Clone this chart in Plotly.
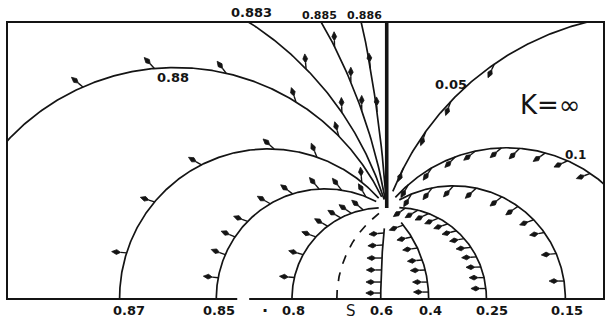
import numpy as np
import plotly.graph_objects as go

# ---------------- data ----------------
# singular point where all isoclines meet
FOCUS_X, FOCUS_Y = 388.0, 90.0
X_RANGE = [8, 605]
Y_RANGE = [0, 275]

# every isocline is a circle centred on the bottom axis passing through the focus
curve_labels = ["0.88", "0.883", "0.885", "0.886", "0.87", "0.85", "0.8", "S",
                "0.6", "0.4", "0.25", "0.15", "0.1", "0.05"]
curve_center = [175.8, 73.1, -163.9, -975.0, 269.1, 326.2, 383.1, 444.0,
                1060.0, 312.6, 397.5, 455.0, 508.3, 657.9]
curve_theta_near = [26, 17.5, 10.2, 4.2, 42, 62, 92, 127, 174.1, 40, 88, 119, 138, 158]
curve_theta_far = [180, 180, 180, 180, 180, 180, 180, 180, 180, 0, 0, 0, 0, 0]
curve_dashed = [False] * 7 + [True] + [False] * 6

# arrows along each isocline: position angle on the circle, arrow direction (deg)
arrow_theta = [
    [113.7, 95.2, 77.2, 58.3, 44.6],
    [44.4, 34.5],
    [26.7, 22.7, 19.6],
    [9.69, 7.83],
    [162.4, 139.9, 116.7, 87.7, 70.9, 51],
    [169.3, 156.6, 145.9, 135.4, 120.3, 107.4, 93.2, 81.3, 68],
    [166.9, 151.2, 137.3, 127.2, 117.2, 109.9, 102],
    [],
    [179.58, 178.65, 177.63, 176.62, 175.52, 174.5],
    [2.9, 7.8, 13.8, 18.9, 25.2, 31.3, 38.4],
    [6, 13, 20, 27, 34, 41, 48, 55, 62, 69, 76, 84],
    [8.7, 23.3, 35.7, 44.2, 54.8, 64.4, 78.3, 90, 101, 112],
    [56, 66, 75, 85, 92, 102, 110, 120, 131],
    [124.7, 136.3, 144.2, 152.7],
]
arrow_angle = [
    [140, 133, 127, 108, 106],
    [95, 92],
    [92, 90, 90],
    [95, 92],
    [175, 162, 150, 138, 112, 95],
    [174, 160, 158, 160, 150, 143, 130, 128, 120],
    [175, 165, 160, 150, 150, 145, 140],
    [],
    [180, 180, 180, 180, 183, 185],
    [180, 180, 182, 185, 188, 192, 200],
    [180, 180, 181, 183, 186, 190, 194, 198, 202, 206, 210, 215],
    [180, 185, 190, 200, 215, 218, 223, 228, 232, 238],
    [200, 205, 215, 225, 221, 218, 225, 235, 240],
    [245, 250, 250, 248],
]

# text labels
label_text = ["0.883", "0.885", "0.886", "0.88", "0.05", "0.1", "K=∞",
              "0.87", "0.85", "·", "0.8", "S", "0.6", "0.4", "0.25", "0.15"]
label_x = [252, 321, 366, 174, 452, 577, 552, 129, 220, 266, 294, 352, 383, 432, 494, 569]
label_y = [285, 283, 283, 221, 214, 143, 193, -12, -12, -12, -12, -13, -12, -12, -12, -12]
label_size = [13, 11, 11, 13, 13, 12, 26, 13, 13, 16, 13, 15, 13, 13, 13, 13]
label_bold = [True, True, True, True, True, True, False,
              True, True, True, True, False, True, True, True, True]

# ---------------- figure ----------------
INK = "#141414"
ARROW_LEN = 15.0
HEAD_LEN = 9.0
HEAD_HALF_W = 2.4

fig = go.Figure()

curve_radius = [float(np.hypot(FOCUS_X - c, FOCUS_Y)) for c in curve_center]

for lab, cx, r, t0, t1, dashed in zip(curve_labels, curve_center, curve_radius,
                                      curve_theta_near, curve_theta_far, curve_dashed):
    t = np.radians(np.linspace(t0, t1, 400))
    fig.add_trace(go.Scatter(
        x=cx + r * np.cos(t), y=r * np.sin(t), mode="lines",
        line=dict(color=INK, width=1.7, dash="dash" if dashed else "solid"),
        hoverinfo="skip", showlegend=False, name=lab))

# thick vertical line from the focus to the top
fig.add_trace(go.Scatter(x=[FOCUS_X, FOCUS_X], y=[FOCUS_Y, Y_RANGE[1]], mode="lines",
                         line=dict(color=INK, width=3.6), hoverinfo="skip", showlegend=False))

# arrows
stem_x, stem_y, head_x, head_y = [], [], [], []
for cx, r, thetas, angs in zip(curve_center, curve_radius, arrow_theta, arrow_angle):
    for th, a in zip(thetas, angs):
        bx = cx + r * np.cos(np.radians(th))
        by = r * np.sin(np.radians(th))
        ux, uy = np.cos(np.radians(a)), np.sin(np.radians(a))
        nx, ny = -uy, ux
        back = (bx + (ARROW_LEN - HEAD_LEN) * ux, by + (ARROW_LEN - HEAD_LEN) * uy)
        mid = (bx + (ARROW_LEN - 0.55 * HEAD_LEN) * ux, by + (ARROW_LEN - 0.55 * HEAD_LEN) * uy)
        tip = (bx + ARROW_LEN * ux, by + ARROW_LEN * uy)
        stem_x += [bx, back[0], None]
        stem_y += [by, back[1], None]
        head_x += [back[0], mid[0] + HEAD_HALF_W * nx, tip[0], mid[0] - HEAD_HALF_W * nx, back[0], None]
        head_y += [back[1], mid[1] + HEAD_HALF_W * ny, tip[1], mid[1] - HEAD_HALF_W * ny, back[1], None]

fig.add_trace(go.Scatter(x=stem_x, y=stem_y, mode="lines", line=dict(color=INK, width=1.4),
                         hoverinfo="skip", showlegend=False))
fig.add_trace(go.Scatter(x=head_x, y=head_y, mode="lines", fill="toself", fillcolor=INK,
                         line=dict(color=INK, width=0.8), hoverinfo="skip", showlegend=False))

y_span = Y_RANGE[1] - Y_RANGE[0]
for txt, x, y, s, b in zip(label_text, label_x, label_y, label_size, label_bold):
    fig.add_annotation(x=x, y=(y - Y_RANGE[0]) / y_span, xref="x", yref="paper", text=txt,
                       xanchor="center", yanchor="middle", showarrow=False,
                       font=dict(family="DejaVu Sans", size=s, color=INK,
                                 weight="bold" if b else "normal"))

# small gap in the bottom frame line between 0.85 and 0.8
gap0 = (238 - X_RANGE[0]) / (X_RANGE[1] - X_RANGE[0])
gap1 = (250 - X_RANGE[0]) / (X_RANGE[1] - X_RANGE[0])
fig.add_shape(type="rect", xref="paper", yref="paper", x0=gap0, x1=gap1, y0=-0.02, y1=0.006,
              fillcolor="white", line=dict(width=0), layer="above")

axis_common = dict(showgrid=False, zeroline=False, showticklabels=False, ticks="",
                   showline=True, linecolor=INK, linewidth=2, mirror=True, fixedrange=True)
fig.update_xaxes(range=X_RANGE, **axis_common)
fig.update_yaxes(range=Y_RANGE, **axis_common)
fig.update_layout(width=610, height=321, margin=dict(l=8, r=5, t=23, b=23),
                  paper_bgcolor="white", plot_bgcolor="white", showlegend=False)

fig.write_html("out.html", config={"displayModeBar": False},
               post_script="document.body.style.margin='0';")
